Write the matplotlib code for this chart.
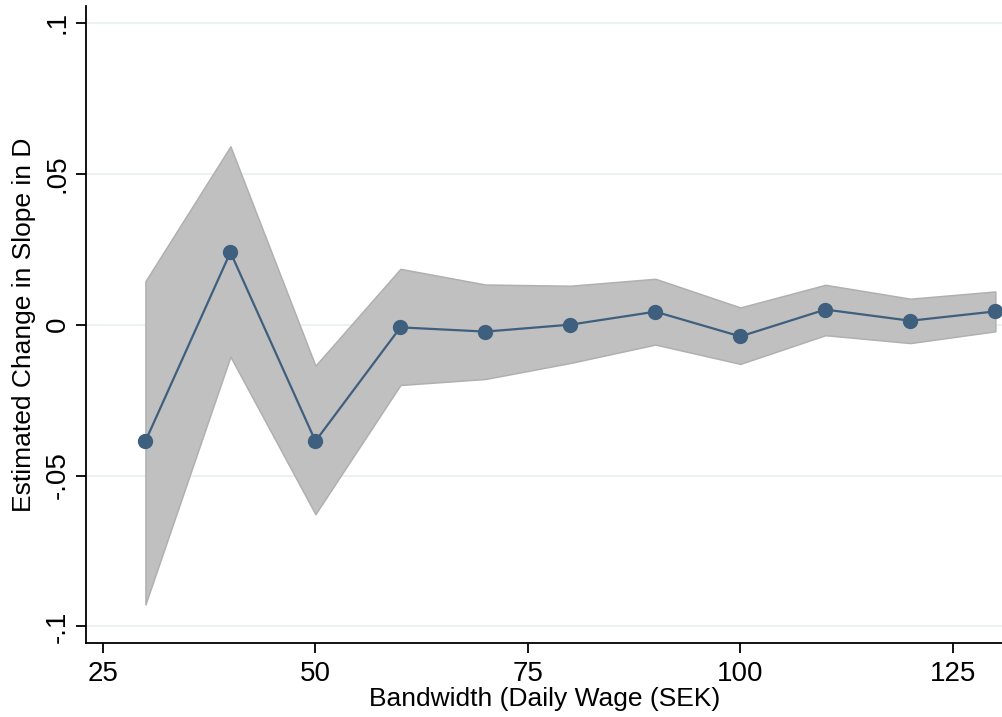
import matplotlib
matplotlib.use("Agg")
import matplotlib.pyplot as plt
import numpy as np

# ---- values --------------------------------------------------------------
bandwidth = [30, 40, 50, 60, 70, 80, 90, 100, 110, 120, 130]
estimate = [-0.0386, 0.0240, -0.0386, -0.0009, -0.0023, 0.0000, 0.0043, -0.0039, 0.0050, 0.0013, 0.0044]
ci_upper = [0.0144, 0.0591, -0.0136, 0.0185, 0.0133, 0.0129, 0.0152, 0.0057, 0.0132, 0.0086, 0.0110]
ci_lower = [-0.0927, -0.0106, -0.0628, -0.0200, -0.0180, -0.0127, -0.0066, -0.0130, -0.0035, -0.0061, -0.0022]
yticks = [-0.1, -0.05, 0, 0.05, 0.1]
ytick_labels = ["-.1", "-.05", "0", ".05", ".1"]
xticks = [25, 50, 75, 100, 125]

C_LINE, C_FILL, C_EDGE, C_GRID = "#3e5f7d", "#c0c0c0", "#b0b0b0", "#eaf2f3"

plt.rcParams["font.family"] = ["Liberation Sans", "DejaVu Sans"]

fig = plt.figure(figsize=(10.03, 7.17), dpi=100)
ax = fig.add_axes([0.0857, 0.1028, 0.9143, 0.8888])

ax.fill_between(bandwidth, ci_lower, ci_upper, facecolor=C_FILL,
                edgecolor=C_EDGE, linewidth=1.1, zorder=2)
ax.plot(bandwidth, estimate, "-o", color=C_LINE, lw=1.6, ms=10, zorder=3)

ax.set_xlim(23, 130.9)
ax.set_ylim(-0.1056, 0.1056)
ax.set_xticks(xticks)
ax.set_yticks(yticks)
ax.set_yticklabels(ytick_labels, rotation=90, va="center")
for y in yticks:
    ax.axhline(y, color=C_GRID, lw=1.5, zorder=1)

for side in ("top", "right"):
    ax.spines[side].set_visible(False)
for side in ("left", "bottom"):
    ax.spines[side].set_linewidth(1.3)
ax.tick_params(direction="out", length=7, width=1.3, labelsize=20, pad=6)
ax.tick_params(axis="y", pad=4)

ax.set_xlabel("Bandwidth (Daily Wage (SEK)", fontsize=19, labelpad=0)
ax.set_ylabel("Estimated Change in Slope in D", fontsize=19, labelpad=6)

fig.savefig("out.png", dpi=100)
